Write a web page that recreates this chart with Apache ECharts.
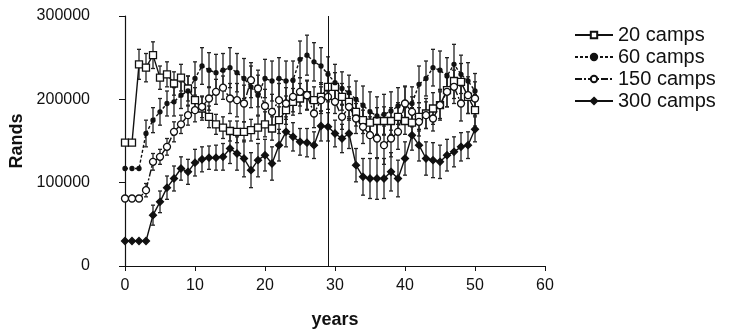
<!DOCTYPE html>
<html>
<head>
<meta charset="utf-8">
<script src="https://cdn.jsdelivr.net/npm/echarts@6/dist/echarts.min.js"></script>
<style>
  html, body { margin: 0; padding: 0; background: #fff; }
  #chart { width: 730px; height: 336px; }
</style>
</head>
<body>
<div id="chart"></div>
<script>
// Simulation years
const years = [0,1,2,3,4,5,6,7,8,9,10,11,12,13,14,15,16,17,18,19,20,21,22,23,24,25,26,27,28,29,30,31,32,33,34,35,36,37,38,39,40,41,42,43,44,45,46,47,48,49,50];

// Mean value (Rands) per year for each number of camps
const camps20 = [148000,148000,242000,238000,253000,226000,230000,219000,226000,213000,199000,189000,179000,170000,166000,162000,161000,161000,163000,166000,170000,165000,175000,187000,197000,201000,205000,199000,203000,215000,215000,203000,197000,185000,175000,172000,174000,174000,174000,179000,174000,172000,179000,183000,189000,193000,211000,222000,221000,203000,187000];
const camps60 = [117000,117000,117000,159000,175000,185000,195000,197000,205000,210000,225000,240000,235000,232000,235000,238000,232000,225000,215000,205000,225000,222000,225000,222000,223000,248000,253000,245000,240000,230000,220000,213000,208000,200000,193000,185000,180000,182000,186000,192000,195000,195000,218000,225000,238000,235000,228000,242000,230000,222000,210000];
const camps150 = [81000,81000,81000,91000,125000,131000,143000,161000,170000,181000,187000,191000,201000,209000,214000,201000,199000,195000,223000,213000,192000,185000,199000,195000,203000,209000,205000,183000,199000,203000,197000,179000,191000,177000,167000,157000,153000,145000,153000,161000,195000,185000,173000,181000,177000,193000,209000,215000,195000,205000,201000];
const camps300 = [30000,30000,30000,30000,61000,77000,94000,105000,117000,113000,124000,128000,130000,130000,131000,141000,135000,129000,115000,127000,133000,123000,145000,161000,155000,149000,148000,145000,168000,167000,159000,153000,159000,121000,107000,105000,105000,105000,113000,105000,129000,157000,145000,129000,127000,125000,133000,137000,143000,145000,164000];

// Half-width of the error bar at each year
const err20 = [0,0,18000,17000,16000,14000,15000,14000,16000,15000,15000,14000,13000,12000,13000,12000,13000,12000,13000,14000,15000,14000,16000,17000,16000,18000,17000,16000,17000,18000,17000,16000,18000,17000,16000,15000,16000,17000,16000,17000,16000,18000,17000,18000,19000,18000,20000,21000,22000,20000,19000];
const err60 = [0,0,0,16000,15000,16000,15000,17000,16000,18000,20000,22000,21000,22000,20000,24000,23000,24000,25000,24000,23000,24000,25000,24000,23000,22000,24000,23000,22000,21000,22000,20000,21000,22000,23000,24000,23000,24000,23000,22000,21000,20000,22000,21000,22000,23000,22000,24000,23000,22000,21000];
const err150 = [0,0,0,8000,10000,9000,10000,12000,11000,12000,14000,13000,14000,15000,14000,18000,20000,22000,21000,22000,20000,21000,20000,19000,18000,17000,18000,17000,16000,15000,14000,15000,16000,18000,20000,22000,24000,23000,22000,21000,20000,18000,17000,16000,15000,16000,18000,20000,21000,22000,20000];
const err300 = [0,0,0,0,12000,13000,14000,15000,14000,15000,16000,15000,14000,15000,16000,18000,20000,22000,21000,20000,19000,20000,19000,18000,17000,16000,17000,16000,18000,17000,16000,17000,18000,20000,22000,24000,25000,24000,23000,22000,20000,18000,19000,20000,21000,20000,19000,18000,17000,16000,15000];

const seriesNames = ['20 camps', '60 camps', '150 camps', '300 camps'];
const yTicks = [0, 100000, 200000, 300000];
const markerYear = 29;

const FONT = "'Liberation Sans', Arial, sans-serif";
const INK = '#111';

function lineSeries(name, values, symbol, size, dash, fill) {
  return {
    name: name,
    type: 'line',
    data: years.map((y, i) => [y, values[i]]),
    symbol: symbol,
    symbolSize: size,
    showAllSymbol: true,
    lineStyle: { color: INK, width: 1.4, type: dash },
    itemStyle: { color: fill, borderColor: INK, borderWidth: 1.3 },
    emphasis: { disabled: true },
    z: 3
  };
}

function errorSeries(values, errs) {
  return {
    type: 'custom',
    silent: true,
    z: 2,
    encode: { x: 0, y: [1, 2] },
    data: years.map((y, i) => [y, values[i] - errs[i], values[i] + errs[i]]),
    renderItem: function (params, api) {
      const x = api.value(0);
      const lo = api.coord([x, api.value(1)]);
      const hi = api.coord([x, api.value(2)]);
      if (lo[1] - hi[1] < 1) return { type: 'group', children: [] };
      const c = 2;
      const st = { stroke: '#222', lineWidth: 1.3 };
      return {
        type: 'group',
        children: [
          { type: 'line', shape: { x1: lo[0], y1: lo[1], x2: hi[0], y2: hi[1] }, style: st },
          { type: 'line', shape: { x1: lo[0] - c, y1: lo[1], x2: lo[0] + c, y2: lo[1] }, style: st },
          { type: 'line', shape: { x1: hi[0] - c, y1: hi[1], x2: hi[0] + c, y2: hi[1] }, style: st }
        ]
      };
    }
  };
}

const s300 = lineSeries(seriesNames[3], camps300, 'diamond', 7, 'solid', INK);
s300.markLine = {
  silent: true,
  symbol: 'none',
  label: { show: false },
  lineStyle: { color: INK, width: 1, type: 'solid' },
  data: [{ xAxis: markerYear }]
};

const chart = echarts.init(document.getElementById('chart'), null, { renderer: 'canvas' });
chart.setOption({
  animation: false,
  backgroundColor: '#fff',
  textStyle: { fontFamily: FONT, color: INK },
  grid: { left: 125, right: 185, top: 16, bottom: 70, containLabel: false, outerBoundsMode: 'none' },
  legend: {
    data: seriesNames,
    orient: 'vertical',
    left: 569,
    top: 20,
    itemWidth: 38,
    itemHeight: 8,
    itemGap: 2,
    textStyle: { fontFamily: FONT, fontSize: 20, color: INK, lineHeight: 20 }
  },
  xAxis: {
    type: 'value',
    min: 0, max: 60, interval: 10,
    name: 'years',
    nameLocation: 'middle',
    nameGap: 45,
    nameTextStyle: { fontFamily: FONT, fontSize: 18, fontWeight: 'bold', color: INK },
    axisLine: { lineStyle: { color: INK, width: 1.2 } },
    axisTick: { inside: false, length: 5, lineStyle: { color: INK } },
    axisLabel: { fontFamily: FONT, fontSize: 16, color: INK, margin: 12 },
    splitLine: { show: false }
  },
  yAxis: {
    type: 'value',
    min: yTicks[0], max: yTicks[yTicks.length - 1], interval: 100000,
    name: 'Rands',
    nameLocation: 'middle',
    nameGap: 94,
    nameTextStyle: { fontFamily: FONT, fontSize: 18, fontWeight: 'bold', color: INK },
    axisLine: { show: true, lineStyle: { color: INK, width: 1.2 } },
    axisTick: { show: true, inside: false, length: 6, lineStyle: { color: INK } },
    axisLabel: { fontFamily: FONT, fontSize: 16, color: INK, margin: 35, formatter: v => String(v) },
    splitLine: { show: false }
  },
  series: [
    errorSeries(camps20, err20),
    errorSeries(camps60, err60),
    errorSeries(camps150, err150),
    errorSeries(camps300, err300),
    lineSeries(seriesNames[0], camps20, 'rect', 7, 'solid', '#fff'),
    lineSeries(seriesNames[1], camps60, 'circle', 4, [3, 2], INK),
    lineSeries(seriesNames[2], camps150, 'circle', 7, [7, 2, 2, 2], '#fff'),
    s300
  ]
});
</script>
</body>
</html>
